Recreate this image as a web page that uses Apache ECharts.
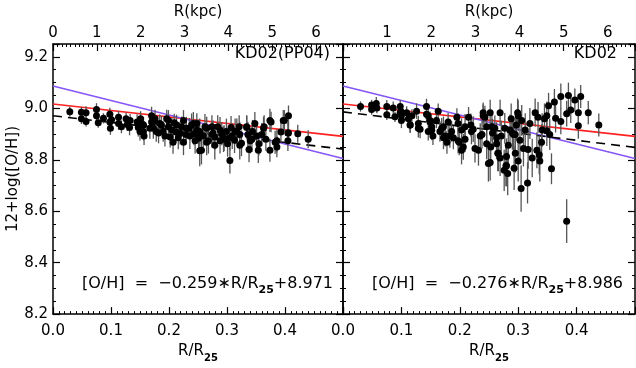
<!DOCTYPE html>
<html>
<head lang="en">
    <meta charset="UTF-8">
    <title></title>
    <style type="text/css">
        body{margin:0;background:#fff;}
        #mychart{width:636px;height:368px;}
    </style>
</head>
<body>
<div id="mychart"></div>
<script src="https://cdn.jsdelivr.net/npm/echarts@6/dist/echarts.min.js"></script>
<script>
    // left panel, KD02(PP04): R/R25, 12+log(O/H), error
    var leftX = [0.029,0.049,0.049,0.057,0.057,0.075,0.075,0.078,0.087,0.098,0.098,0.099,0.101,0.113,0.113,0.118,0.126,0.128,0.132,0.133,
        0.145,0.147,0.150,0.151,0.155,0.157,0.167,0.170,0.174,0.178,0.184,0.190,0.196,0.199,0.202,0.209,0.212,0.216,0.222,0.225,
        0.229,0.235,0.239,0.243,0.248,0.251,0.248,0.251,0.253,0.259,0.265,0.268,0.274,0.276,0.279,0.284,0.288,0.291,0.295,0.299,
        0.301,0.305,0.307,0.309,0.313,0.317,0.321,0.322,0.325,0.334,0.336,0.338,0.340,0.344,0.348,0.351,0.355,0.360,0.364,0.367,
        0.376,0.374,0.383,0.386,0.393,0.399,0.406,0.405,0.405,0.422,0.440,
        0.156,0.156,0.170,0.173,0.176,0.182,0.187,0.193,0.199,0.205,0.207,0.213,0.219,0.225,0.230,0.236,0.242,0.245,0.253,0.256,
        0.262,0.265,0.274,0.279,0.288,0.294,0.305,0.314,0.322,0.334,0.343,0.354,0.363,0.374,0.386,0.397,0.406];
    var leftY = [8.987,8.985,8.959,8.983,8.949,8.995,8.971,8.944,8.961,8.977,8.947,8.922,8.956,8.965,8.941,8.928,8.959,8.937,8.925,8.953,
        8.947,8.925,8.910,8.959,8.937,8.892,8.922,8.971,8.949,8.910,8.941,8.910,8.959,8.928,8.888,8.944,8.908,8.886,8.928,8.953,
        8.898,8.922,8.935,8.901,8.916,8.884,8.941,8.910,8.835,8.892,8.922,8.874,8.928,8.904,8.888,8.928,8.874,8.901,8.884,8.910,
        8.862,8.797,8.925,8.892,8.876,8.910,8.928,8.898,8.864,8.925,8.898,8.840,8.874,8.910,8.941,8.892,8.862,8.898,8.928,8.880,
        8.947,8.837,8.868,8.850,8.908,8.953,8.971,8.904,8.874,8.901,8.880,
        8.935,8.910,8.947,8.922,8.959,8.904,8.935,8.892,8.953,8.916,8.868,8.935,8.904,8.868,8.922,8.892,8.941,8.874,8.910,8.837,
        8.928,8.868,8.898,8.856,8.916,8.880,8.886,8.910,8.856,8.928,8.880,8.837,8.922,8.953,8.874,8.953,8.904];
    var leftErr = [0.02,0.02,0.02,0.025,0.02,0.025,0.025,0.02,0.02,0.025,0.025,0.025,0.02,0.025,0.025,0.025,0.025,0.025,0.03,0.025,
        0.03,0.035,0.035,0.03,0.03,0.035,0.04,0.035,0.03,0.04,0.035,0.04,0.035,0.04,0.04,0.035,0.04,0.045,0.04,0.04,
        0.04,0.04,0.045,0.045,0.04,0.05,0.04,0.045,0.06,0.045,0.045,0.05,0.045,0.05,0.05,0.045,0.05,0.045,0.05,0.05,
        0.05,0.05,0.045,0.05,0.05,0.05,0.045,0.05,0.05,0.045,0.05,0.05,0.05,0.045,0.045,0.05,0.045,0.045,0.045,0.045,
        0.04,0.045,0.045,0.04,0.04,0.04,0.04,0.04,0.04,0.035,0.035,
        0.03,0.035,0.035,0.04,0.035,0.04,0.035,0.04,0.04,0.045,0.045,0.04,0.045,0.05,0.045,0.05,0.045,0.05,0.05,0.055,
        0.05,0.05,0.05,0.055,0.05,0.05,0.05,0.05,0.055,0.045,0.05,0.05,0.045,0.045,0.045,0.04,0.04];

    // right panel, KD02
    var rightX = [0.030,0.049,0.049,0.057,0.058,0.075,0.075,0.086,0.089,0.098,0.099,0.100,0.109,0.112,0.115,0.118,0.126,0.129,0.132,0.143,
        0.146,0.146,0.149,0.152,0.154,0.160,0.163,0.166,0.172,0.175,0.178,0.180,0.186,0.189,0.195,0.197,0.199,0.203,0.206,0.209,
        0.215,0.219,0.223,0.226,0.232,0.235,0.240,0.243,0.246,0.249,0.252,0.252,0.253,0.256,0.260,0.263,0.265,0.269,0.271,0.269,
        0.276,0.279,0.280,0.282,0.283,0.286,0.288,0.290,0.293,0.295,0.297,0.299,0.300,0.303,0.305,0.306,0.309,0.312,0.316,0.317,
        0.320,0.324,0.329,0.332,0.334,0.336,0.337,0.340,0.341,0.345,0.349,0.352,0.357,0.362,0.364,0.373,0.373,0.383,0.383,0.386,
        0.390,0.397,0.403,0.403,0.407,0.420,0.438,0.349,0.354,
        0.098,0.100,0.115,0.129,0.143,0.149,0.152,0.169,0.172,0.183,0.197,0.203,0.209,0.220,0.238,0.240,0.246,0.255,0.263,0.266,
        0.277,0.280,0.292,0.295,0.300];
    var rightY = [9.007,9.013,8.995,9.019,9.001,9.007,8.975,9.001,8.967,9.007,8.989,8.971,8.983,8.959,8.935,8.971,8.989,8.941,8.919,9.007,
        8.971,8.910,8.947,8.928,8.892,8.953,8.989,8.910,8.928,8.892,8.868,8.947,8.910,8.886,8.965,8.941,8.868,8.916,8.850,8.880,
        8.965,8.935,8.919,8.844,8.837,8.892,8.983,8.965,8.928,8.785,8.983,8.789,8.850,8.904,8.922,8.862,8.825,8.983,8.892,8.807,
        8.759,8.777,8.813,8.747,8.856,8.916,8.959,8.904,8.767,8.898,8.935,8.983,8.795,8.876,8.688,8.953,8.844,8.916,8.710,8.840,
        8.941,8.807,8.983,8.837,8.965,8.819,8.795,8.868,8.916,8.959,8.971,9.010,8.765,9.025,8.961,9.046,8.949,8.979,8.561,9.050,
        8.993,9.032,8.932,8.983,9.046,8.983,8.935,8.913,8.898,
        8.983,8.953,8.935,8.922,8.977,8.953,8.916,8.922,8.886,8.892,8.874,8.837,8.928,8.910,8.898,8.971,8.862,8.928,8.886,8.825,
        8.922,8.777,8.898,8.825,8.971];
    var rightErr = [0.02,0.02,0.02,0.025,0.02,0.025,0.02,0.025,0.02,0.025,0.025,0.025,0.025,0.03,0.03,0.025,0.03,0.03,0.035,0.03,
        0.03,0.035,0.03,0.035,0.035,0.03,0.03,0.04,0.04,0.04,0.045,0.035,0.04,0.045,0.035,0.04,0.05,0.045,0.05,0.05,
        0.04,0.045,0.05,0.055,0.06,0.05,0.04,0.045,0.05,0.07,0.05,0.07,0.06,0.055,0.05,0.06,0.07,0.05,0.06,0.07,
        0.08,0.08,0.07,0.085,0.07,0.06,0.06,0.065,0.085,0.065,0.06,0.055,0.08,0.07,0.09,0.06,0.07,0.065,0.08,0.075,
        0.06,0.075,0.055,0.07,0.06,0.075,0.08,0.07,0.065,0.06,0.055,0.05,0.06,0.05,0.055,0.05,0.05,0.05,0.085,0.05,
        0.05,0.045,0.05,0.05,0.045,0.045,0.045,0.06,0.06,
        0.025,0.03,0.03,0.035,0.03,0.035,0.04,0.04,0.045,0.045,0.05,0.055,0.05,0.05,0.055,0.045,0.06,0.055,0.06,0.07,
        0.06,0.08,0.065,0.075,0.06];

    // gradients [intercept, slope] in R/R25
    var redFit = [9.017, -0.252];
    var blueFit = [9.087, -0.564];
    var leftFit = [8.971, -0.259];
    var rightFit = [8.986, -0.276];
    var R25 = 13.23;   // kpc
    var xMax = 0.5;

    var font = 'DejaVu Sans';

    function fitLine(fit) {
        return [[0, fit[0]], [xMax, fit[0] + fit[1] * xMax]];
    }

    function bottomAxis(g) {
        return {
            type: 'value', gridIndex: g, position: 'bottom', min: 0, max: xMax, interval: 0.1,
            axisLine: {onZero: false, lineStyle: {color: '#000', width: 1.5}},
            axisTick: {inside: true, length: 7, lineStyle: {color: '#000', width: 1.2}},
            minorTick: {show: true, splitNumber: 10, length: 3, lineStyle: {color: '#000', width: 1}},
            splitLine: {show: false},
            axisLabel: {color: '#000', fontSize: 15, fontFamily: font, margin: 10, showMaxLabel: false,
                formatter: function (v) { return v.toFixed(1); }},
            name: '{n|R/R}{s|25}', nameLocation: 'middle', nameGap: 22,
            nameTextStyle: {rich: {
                n: {fontSize: 15, fontFamily: font, color: '#000', lineHeight: 16, verticalAlign: 'top'},
                s: {fontSize: 10, fontFamily: font, color: '#000', fontWeight: 'bold', lineHeight: 28, verticalAlign: 'middle'}
            }}
        };
    }

    function topAxis(g, showZero) {
        return {
            type: 'value', gridIndex: g, position: 'top', min: 0, max: xMax * R25, interval: 1,
            axisLine: {onZero: false, lineStyle: {color: '#000', width: 1.5}},
            axisTick: {inside: true, length: 7, lineStyle: {color: '#000', width: 1.2}},
            minorTick: {show: true, splitNumber: 10, length: 3, lineStyle: {color: '#000', width: 1}},
            splitLine: {show: false},
            axisLabel: {color: '#000', fontSize: 15, fontFamily: font, margin: 3,
                showMinLabel: showZero, showMaxLabel: false},
            name: 'R(kpc)', nameLocation: 'middle', nameGap: 24,
            nameTextStyle: {color: '#000', fontSize: 15, fontFamily: font}
        };
    }

    function yAxis(g, pos, labels) {
        var ax = {
            type: 'value', gridIndex: g, position: pos, min: 8.2, max: 9.25, interval: 0.2,
            axisLine: {onZero: false, lineStyle: {color: '#000', width: 1.5}},
            axisTick: {inside: true, length: 7, lineStyle: {color: '#000', width: 1.2}},
            minorTick: {show: true, splitNumber: 4, length: 3, lineStyle: {color: '#000', width: 1}},
            splitLine: {show: false},
            axisLabel: {show: labels, color: '#000', fontSize: 15, fontFamily: font, margin: 5,
                showMaxLabel: false, formatter: function (v) { return v.toFixed(1); }}
        };
        if (labels) {
            ax.name = '12+log([O/H])';
            ax.nameLocation = 'middle';
            ax.nameGap = 29;
            ax.nameTextStyle = {color: '#000', fontSize: 15, fontFamily: font};
        }
        return ax;
    }

    function panelSeries(g, xs, ys, es, fit) {
        var pts = xs.map(function (x, i) { return [x, ys[i]]; });
        var bars = xs.map(function (x, i) { return [x, ys[i] - es[i], ys[i] + es[i]]; });
        var xi = g * 2, yi = g * 2;
        return [
            {type: 'line', xAxisIndex: xi, yAxisIndex: yi, data: fitLine(redFit), symbol: 'none', silent: true,
                lineStyle: {color: '#ff2020', width: 1.6}, z: 2},
            {type: 'line', xAxisIndex: xi, yAxisIndex: yi, data: fitLine(blueFit), symbol: 'none', silent: true,
                lineStyle: {color: '#8656f5', width: 1.6}, z: 2},
            {type: 'line', xAxisIndex: xi, yAxisIndex: yi, data: fitLine(fit), symbol: 'none', silent: true,
                lineStyle: {color: '#000', width: 1.6, type: [9, 6]}, z: 2},
            {type: 'custom', xAxisIndex: xi, yAxisIndex: yi, data: bars, silent: true, z: 3,
                renderItem: function (params, api) {
                    var lo = api.coord([api.value(0), api.value(1)]);
                    var hi = api.coord([api.value(0), api.value(2)]);
                    return {type: 'line', shape: {x1: lo[0], y1: lo[1], x2: hi[0], y2: hi[1]},
                        style: {stroke: '#555', lineWidth: 1.3}};
                }},
            {type: 'scatter', xAxisIndex: xi, yAxisIndex: yi, data: pts, symbol: 'circle', symbolSize: 7,
                itemStyle: {color: '#000', opacity: 1}, silent: true, z: 4}
        ];
    }

    function eqText(fit) {
        return '{a|[O/H]  =  \u2212' + (-fit[1]).toFixed(3) + '\u2217R/R}{b|25}{a|+' + fit[0].toFixed(3) + '}';
    }
    var eqRich = {
        a: {fontSize: 16, fontFamily: font, fill: '#000', lineHeight: 16, verticalAlign: 'top'},
        b: {fontSize: 11, fontFamily: font, fill: '#000', fontWeight: 'bold', lineHeight: 28, verticalAlign: 'middle'}
    };

    var option = {
        backgroundColor: '#fff',
        animation: false,
        grid: [
            {left: 53, top: 33, width: 290, height: 289},
            {left: 343, top: 33, width: 292, height: 289}
        ],
        xAxis: [bottomAxis(0), topAxis(0, true), bottomAxis(1), topAxis(1, false)],
        yAxis: [yAxis(0, 'left', true), yAxis(0, 'right', false), yAxis(1, 'left', false), yAxis(1, 'right', false)],
        series: [].concat(
            panelSeries(0, leftX, leftY, leftErr, leftFit),
            panelSeries(1, rightX, rightY, rightErr, rightFit)
        ),
        graphic: [
            {type: 'text', right: 306, top: 46, style: {text: 'KD02(PP04)', font: '16px "DejaVu Sans"', fill: '#000'}},
            {type: 'text', right: 19, top: 46, style: {text: 'KD02', font: '16px "DejaVu Sans"', fill: '#000'}},
            {type: 'text', left: 82, top: 276, style: {text: eqText(leftFit), rich: eqRich}},
            {type: 'text', left: 372, top: 276, style: {text: eqText(rightFit), rich: eqRich}}
        ]
    };

    var mychart = echarts.init(document.getElementById('mychart'));
    mychart.setOption(option);
</script>
</body>
</html>
